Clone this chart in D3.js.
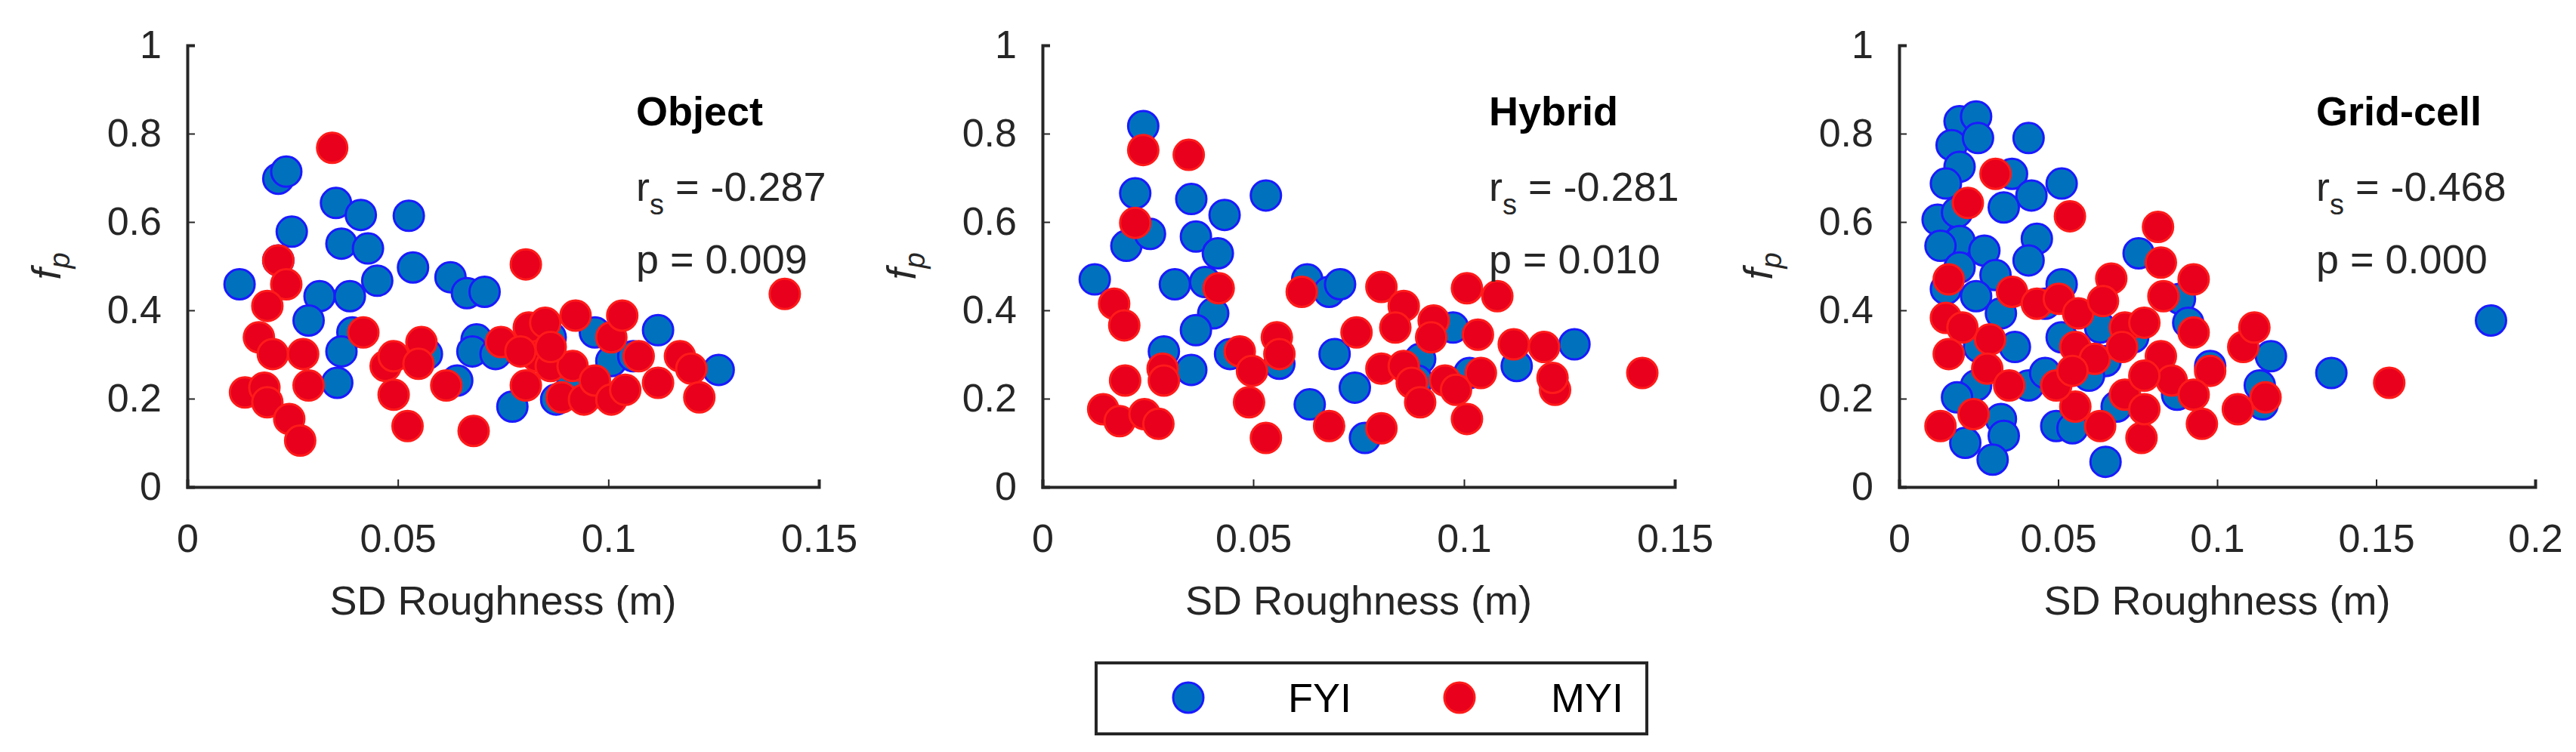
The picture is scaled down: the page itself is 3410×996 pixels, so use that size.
<!DOCTYPE html>
<html>
<head>
<meta charset="utf-8">
<script src="https://cdn.jsdelivr.net/npm/d3@7"></script>
<style>
body { margin: 0; background: #fff; }
text { font-family: Arial, "Liberation Sans", sans-serif; }
</style>
</head>
<body>
<script>
// panel names and stats
var panelNames = ["Object", "Hybrid", "Grid-cell"];
var rsValues = ["-0.287", "-0.281", "-0.468"];
var pValues = ["0.009", "0.010", "0.000"];
var xMaxes = [0.15, 0.15, 0.2];
var xTicks = [[0, 0.05, 0.1, 0.15], [0, 0.05, 0.1, 0.15], [0, 0.05, 0.1, 0.15, 0.2]];
var yTicks = [0, 0.2, 0.4, 0.6, 0.8, 1];

// [sd roughness, fp]
var objectFYI = [[0.0124,0.459],[0.0216,0.698],[0.0235,0.714],[0.0248,0.578],[0.0216,0.513],[0.0353,0.643],[0.0412,0.616],[0.0526,0.614],[0.0366,0.551],[0.0429,0.540],[0.0451,0.467],[0.0536,0.497],[0.0625,0.475],[0.0664,0.439],[0.0706,0.442],[0.0314,0.432],[0.0386,0.432],[0.0288,0.377],[0.0392,0.350],[0.0366,0.307],[0.0356,0.236],[0.0687,0.334],[0.0677,0.307],[0.0732,0.301],[0.0772,0.182],[0.0876,0.198],[0.0968,0.350],[0.1007,0.285],[0.1118,0.355],[0.1262,0.265],[0.0569,0.301],[0.0641,0.241],[0.0863,0.339],[0.0915,0.241],[0.1059,0.296]];
var objectMYI = [[0.0344,0.768],[0.0216,0.513],[0.0235,0.459],[0.0190,0.410],[0.0170,0.339],[0.0203,0.301],[0.0275,0.301],[0.0137,0.214],[0.0183,0.225],[0.0190,0.192],[0.0242,0.154],[0.0268,0.105],[0.0288,0.230],[0.0418,0.350],[0.0471,0.274],[0.0490,0.296],[0.0556,0.328],[0.0549,0.279],[0.0490,0.209],[0.0523,0.138],[0.0615,0.230],[0.0680,0.127],[0.0745,0.328],[0.0804,0.504],[0.0811,0.361],[0.0850,0.372],[0.0830,0.296],[0.0804,0.230],[0.0863,0.274],[0.0922,0.388],[0.0889,0.203],[0.0915,0.274],[0.0942,0.198],[0.0968,0.241],[0.1007,0.339],[0.1033,0.388],[0.1007,0.198],[0.1040,0.220],[0.1072,0.296],[0.1118,0.236],[0.1170,0.296],[0.1197,0.268],[0.1216,0.203],[0.1419,0.437],[0.0863,0.317],[0.0791,0.307]];
var hybridFYI = [[0.0239,0.817],[0.0220,0.665],[0.0353,0.652],[0.0432,0.616],[0.0530,0.660],[0.0199,0.546],[0.0255,0.573],[0.0364,0.567],[0.0416,0.529],[0.0124,0.470],[0.0314,0.459],[0.0386,0.464],[0.0628,0.470],[0.0680,0.442],[0.0706,0.459],[0.0405,0.393],[0.0364,0.355],[0.0288,0.307],[0.0353,0.265],[0.0445,0.301],[0.0562,0.279],[0.0693,0.301],[0.0634,0.187],[0.0741,0.225],[0.0765,0.111],[0.0974,0.361],[0.0896,0.290],[0.1013,0.258],[0.1125,0.274],[0.1262,0.323],[0.0889,0.241]];
var hybridMYI = [[0.0239,0.763],[0.0347,0.752],[0.0220,0.598],[0.0170,0.415],[0.0194,0.366],[0.0144,0.176],[0.0183,0.149],[0.0196,0.241],[0.0242,0.165],[0.0275,0.143],[0.0285,0.268],[0.0288,0.241],[0.0418,0.450],[0.0468,0.307],[0.0497,0.263],[0.0490,0.192],[0.0556,0.339],[0.0562,0.301],[0.0530,0.111],[0.0615,0.442],[0.0680,0.138],[0.0745,0.350],[0.0804,0.453],[0.0857,0.410],[0.0837,0.361],[0.0804,0.268],[0.0857,0.274],[0.0876,0.236],[0.0896,0.192],[0.0928,0.377],[0.0922,0.339],[0.0955,0.241],[0.0981,0.220],[0.1007,0.154],[0.1007,0.450],[0.1040,0.258],[0.1033,0.345],[0.1079,0.432],[0.1118,0.323],[0.1190,0.317],[0.1216,0.220],[0.1210,0.247],[0.1423,0.258],[0.0804,0.133]];
var gridFYI = [[0.0190,0.828],[0.0242,0.839],[0.0165,0.774],[0.0248,0.790],[0.0407,0.790],[0.0190,0.725],[0.0147,0.687],[0.0355,0.709],[0.0416,0.660],[0.0511,0.687],[0.0329,0.633],[0.0121,0.605],[0.0182,0.622],[0.0190,0.557],[0.0130,0.546],[0.0268,0.535],[0.0433,0.562],[0.0407,0.513],[0.0190,0.497],[0.0303,0.480],[0.0511,0.459],[0.0242,0.432],[0.0320,0.393],[0.0459,0.415],[0.0364,0.317],[0.0511,0.339],[0.0407,0.230],[0.0459,0.258],[0.0242,0.230],[0.0182,0.203],[0.0320,0.154],[0.0329,0.116],[0.0208,0.100],[0.0294,0.062],[0.0494,0.138],[0.0545,0.133],[0.0649,0.057],[0.0684,0.182],[0.0649,0.285],[0.0753,0.529],[0.0883,0.426],[0.0909,0.372],[0.1169,0.296],[0.1134,0.230],[0.1143,0.187],[0.1359,0.258],[0.1861,0.377],[0.0874,0.209],[0.0597,0.252],[0.0251,0.317],[0.0147,0.448],[0.0632,0.361],[0.0736,0.339],[0.0978,0.274]];
var gridMYI = [[0.0303,0.709],[0.0216,0.643],[0.0537,0.613],[0.0814,0.589],[0.0823,0.508],[0.0926,0.470],[0.0667,0.472],[0.0156,0.470],[0.0355,0.442],[0.0433,0.415],[0.0502,0.426],[0.0563,0.393],[0.0641,0.421],[0.0831,0.432],[0.0147,0.383],[0.0199,0.361],[0.0286,0.334],[0.0156,0.301],[0.0277,0.268],[0.0346,0.230],[0.0234,0.165],[0.0130,0.138],[0.0554,0.317],[0.0615,0.290],[0.0710,0.361],[0.0701,0.317],[0.0771,0.372],[0.0823,0.296],[0.0926,0.350],[0.0978,0.263],[0.1082,0.317],[0.1117,0.361],[0.1152,0.203],[0.1065,0.176],[0.0952,0.143],[0.0762,0.111],[0.0632,0.138],[0.0554,0.182],[0.0494,0.230],[0.0710,0.209],[0.0771,0.176],[0.0857,0.241],[0.0926,0.209],[0.1541,0.236],[0.0545,0.263],[0.0771,0.252]];

var fyiData = [objectFYI, hybridFYI, gridFYI];
var myiData = [objectMYI, hybridMYI, gridMYI];
var seriesNames = ["FYI", "MYI"];

var fill = { FYI: "#0072bd", MYI: "#e8001c" };
var stroke = { FYI: "#1a1aff", MYI: "#ff1a1a" };

var width = 3410, height = 996;
var svg = d3.select("body").append("svg")
	.attr("width", width)
	.attr("height", height);

var panelLeft = [248, 1380, 2514];
var panelRight = [1084, 2217, 3356];
var plotTop = 60, plotBottom = 645;
var r = 20;

for (var i = 0; i < 3; i++) {
	drawPanel(i);
}

function drawPanel(i) {
	var x = d3.scaleLinear().domain([0, xMaxes[i]]).range([panelLeft[i], panelRight[i]]);
	var y = d3.scaleLinear().domain([0, 1]).range([plotBottom, plotTop]);
	var g = svg.append("g");

	// points
	var series = [["FYI", fyiData[i]], ["MYI", myiData[i]]];
	series.forEach(function(s) {
		g.selectAll(null).data(s[1]).enter().append("circle")
			.attr("cx", function(d) { return x(d[0]); })
			.attr("cy", function(d) { return y(d[1]); })
			.attr("r", r)
			.attr("fill", fill[s[0]])
			.attr("stroke", stroke[s[0]])
			.attr("stroke-width", 3);
	});

	// axes
	var xAxis = g.append("g").attr("transform", "translate(0," + plotBottom + ")")
		.call(d3.axisBottom(x).tickValues(xTicks[i]).tickSize(-10).tickPadding(40).tickFormat(d3.format("")));
	var yAxis = g.append("g").attr("transform", "translate(" + panelLeft[i] + ",0)")
		.call(d3.axisLeft(y).tickValues(yTicks).tickSize(-10).tickPadding(34).tickFormat(d3.format("")));
	[xAxis, yAxis].forEach(function(a) {
		a.select(".domain").attr("stroke", "#262626").attr("stroke-width", 4);
		a.selectAll(".tick line").attr("stroke", "#262626").attr("stroke-width", 2);
		a.selectAll("text").attr("font-size", 52).attr("fill", "#262626")
			.attr("font-family", "Arial, 'Liberation Sans', sans-serif");
	});
	xAxis.selectAll("text").attr("dy", "0.35em").attr("y", 68);

	// axis titles
	g.append("text")
		.attr("x", (panelLeft[i] + panelRight[i]) / 2)
		.attr("y", 814)
		.attr("text-anchor", "middle")
		.attr("font-size", 54)
		.attr("fill", "#262626")
		.text("SD Roughness (m)");
	var yl = g.append("text")
		.attr("transform", "translate(" + (panelLeft[i] - 168) + "," + ((plotTop + plotBottom) / 2) + ") rotate(-90)")
		.attr("text-anchor", "middle")
		.attr("font-size", 54)
		.attr("fill", "#262626");
	yl.append("tspan").attr("font-style", "italic").text("f");
	yl.append("tspan").attr("font-size", 38).attr("dy", 12).attr("font-style", "italic").text("p");

	// annotations
	var tx = panelRight[i] - [242, 246, 290][i];
	g.append("text").attr("x", tx).attr("y", 166)
		.attr("font-size", 54).attr("font-weight", "bold").attr("fill", "#000")
		.text(panelNames[i]);
	var rs = g.append("text").attr("x", tx).attr("y", 266)
		.attr("font-size", 54).attr("fill", "#262626");
	rs.append("tspan").text("r");
	rs.append("tspan").attr("font-size", 38).attr("dy", 18).text("s");
	rs.append("tspan").attr("dy", -18).text(" = " + rsValues[i]);
	g.append("text").attr("x", tx).attr("y", 362)
		.attr("font-size", 54).attr("fill", "#262626")
		.text("p = " + pValues[i]);
}

// legend
var legend = svg.append("g");
legend.append("rect")
	.attr("x", 1451).attr("y", 878)
	.attr("width", 729).attr("height", 94)
	.attr("fill", "#fff").attr("stroke", "#262626").attr("stroke-width", 4);
var legendX = [1573, 1932];
var legendTextX = [1705, 2053];
seriesNames.forEach(function(n, k) {
	legend.append("circle")
		.attr("cx", legendX[k]).attr("cy", 924).attr("r", r)
		.attr("fill", fill[n]).attr("stroke", stroke[n]).attr("stroke-width", 3);
	legend.append("text")
		.attr("x", legendTextX[k]).attr("y", 943)
		.attr("font-size", 54).attr("fill", "#000")
		.text(n);
});
</script>
</body>
</html>
